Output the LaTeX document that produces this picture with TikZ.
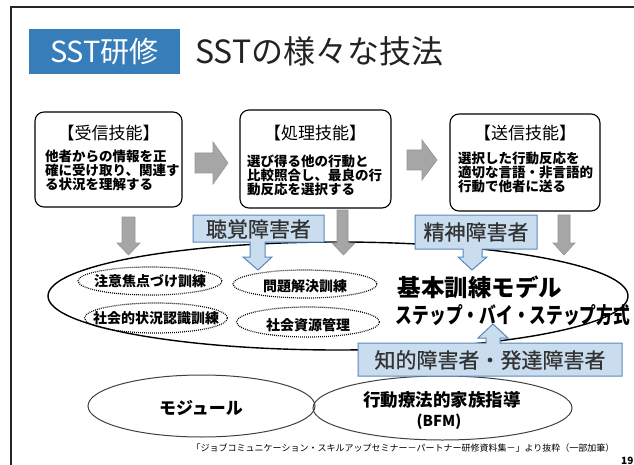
\documentclass[tikz,border=0pt]{standalone}
\usepackage{fontspec}
\setmainfont{Noto Sans CJK JP}
\newfontfamily\callfont[FakeBold=0.7]{Noto Sans CJK JP}
\usetikzlibrary{shapes.geometric}
\definecolor{titleblue}{HTML}{377DB9}
\definecolor{callfill}{HTML}{C9DDEF}
\definecolor{calldraw}{HTML}{5A88BD}
\definecolor{arrgray}{HTML}{A6A6A6}
\definecolor{arrgrayd}{HTML}{959595}
\definecolor{titletext}{HTML}{222222}
\newcommand\pxsize[1]{\fontsize{#1}{#1}\selectfont}
\begin{document}
\begin{tikzpicture}[x=1pt,y=-1pt,
  skillbox/.style={draw, rounded corners=9pt, line width=1.1pt, inner sep=0pt},
  grayarrow/.style={fill=arrgray, draw=arrgrayd, line width=0.6pt},
  callout/.style={fill=callfill, draw=calldraw, line width=1pt},
  dotell/.style={ellipse, draw, line width=1.2pt, dash pattern=on 0.9pt off 1.1pt, inner sep=0pt},
  bottomell/.style={ellipse, draw=black!75, line width=1pt, inner sep=0pt},
  headtxt/.style={font=\pxsize{17}},
  bodytxt/.style={font=\pxsize{13.5}\bfseries\linespread{0.93}\selectfont, align=left, inner sep=0pt},
  calltxt/.style={font=\callfont\pxsize{21}, text=black!80, inner sep=0pt},
  dottxt/.style={font=\pxsize{14}\bfseries}
]
\useasboundingbox (0,0) rectangle (634,465);
% frame
\draw[line width=1.8pt, black!85] (11,470) -- (11,7) -- (640,7);
% title
\node[fill=titleblue, minimum width=151pt, minimum height=45pt, inner sep=0pt,
      text=white, font=\pxsize{29}] (tag) at (104.5,51.5) {SST研修};
\node[anchor=west, text=titletext, font=\pxsize{32}, inner sep=0pt] (title) at (195,51) {SSTの様々な技法};

% skill boxes
\node[skillbox, minimum width=147pt, minimum height=95pt] (b1) at (108.5,159.5) {};
\node[skillbox, minimum width=151pt, minimum height=98pt] (b2) at (315.5,159) {};
\node[skillbox, minimum width=150pt, minimum height=97pt] (b3) at (525,162.5) {};
\node[headtxt] (h1) at (108.5,133) {【受信技能】};
\node[headtxt] (h2) at (315,133) {【処理技能】};
\node[headtxt] (h3) at (525,133) {【送信技能】};
\node[bodytxt, anchor=north west] (t1) at (45,150) {他者からの情報を正\\確に受け取り、関連す\\る状況を理解する};
\node[bodytxt, anchor=north west] (t2) at (247,155) {選び得る他の行動と\\比較照合し、最良の行\\動反応を選択する};
\node[bodytxt, anchor=north west] (t3) at (458,152) {選択した行動反応を\\適切な言語・非言語的\\行動で他者に送る};

% right gray arrows
\draw[grayarrow] (195,153) -- (213,153) -- (213,142) -- (228,163) -- (213,184) -- (213,173) -- (195,173) -- cycle;
\draw[grayarrow] (407,150) -- (422,150) -- (422,140) -- (437,160) -- (422,180) -- (422,170) -- (407,170) -- cycle;

% big ellipse
\node[ellipse, draw, line width=1.4pt, minimum width=580pt, minimum height=108pt, inner sep=0pt] (big) at (338,296) {};

% down gray arrows
\draw[grayarrow] (122,217) -- (135,217) -- (135,243) -- (140,243) -- (128.5,255) -- (117,243) -- (122,243) -- cycle;
\draw[grayarrow] (337,210) -- (348,210) -- (348,243) -- (355,243) -- (343.5,255) -- (332,243) -- (337,243) -- cycle;
\draw[grayarrow] (558,215) -- (570,215) -- (570,243) -- (575,243) -- (564,255) -- (553,243) -- (558,243) -- cycle;

% dotted ellipses
\node[dotell, minimum width=144pt, minimum height=28pt] (e1) at (150,281) {};
\node[dotell, minimum width=143pt, minimum height=30pt] (e2) at (156,318) {};
\node[dotell, minimum width=144pt, minimum height=28pt] (e3) at (305,284) {};
\node[dotell, minimum width=143pt, minimum height=30pt] (e4) at (308,322) {};
\node[dottxt] (e1t) at (e1) {注意焦点づけ訓練};
\node[dottxt] (e2t) at (e2) {社会的状況認識訓練};
\node[dottxt] (e3t) at ([yshift=-2pt]e3.center) {問題解決訓練};
\node[dottxt] (e4t) at ([yshift=-3pt]e4.center) {社会資源管理};

% model text
\node[font=\pxsize{23.5}\bfseries, inner sep=0pt] (model) at (480,287) {基本訓練モデル};
\node[inner sep=0pt] (sbs) at (513,315) {\scalebox{0.76}[1]{\pxsize{22}\bfseries ステップ・バイ・ステップ方式}};

% callouts
\draw[callout] (193,215) -- (324,215) -- (324,242) -- (265,242) -- (265,257) -- (272,257) -- (258,270) -- (243,257) -- (250,257) -- (250,242) -- (193,242) -- cycle;
\node[calltxt] (c1) at (258.5,229) {聴覚障害者};
\draw[callout] (415,215) -- (537,215) -- (537,249) -- (482,249) -- (482,257) -- (487,257) -- (472,270) -- (458,257) -- (463,257) -- (463,249) -- (415,249) -- cycle;
\node[calltxt] (c2) at (476,232) {精神障害者};

% bottom ellipses
\node[bottomell, minimum width=227pt, minimum height=62pt] (m1) at (201.5,406) {};
\node[bottomell, minimum width=259pt, minimum height=64pt] (m2) at (442.5,408) {};
\node[font=\pxsize{17}\bfseries, inner sep=0pt] (m1t) at (201,408) {モジュール};
\node[font=\pxsize{17.5}\bfseries, inner sep=0pt] (m2t) at (442,400) {行動療法的家族指導};
\node[font=\pxsize{15}\bfseries, inner sep=0pt] (m2b) at (439,422) {(BFM)};

% callout 3 (up arrow)
\draw[callout] (358,343) -- (486,343) -- (486,338) -- (478,338) -- (493,324) -- (508,338) -- (500,338) -- (500,343) -- (622,343) -- (622,376) -- (358,376) -- cycle;
\node[calltxt] (c3) at (490,360) {知的障害者・発達障害者};

% footer
\node[font=\pxsize{9}, inner sep=0pt] (foot) at (403,448) {「ジョブコミュニケーション・スキルアップセミナー－パートナー研修資料集－」より抜粋（一部加筆）};
\node[font=\pxsize{10}\bfseries, anchor=west, inner sep=0pt] (pg) at (621,461) {19};
\end{tikzpicture}
\end{document}
